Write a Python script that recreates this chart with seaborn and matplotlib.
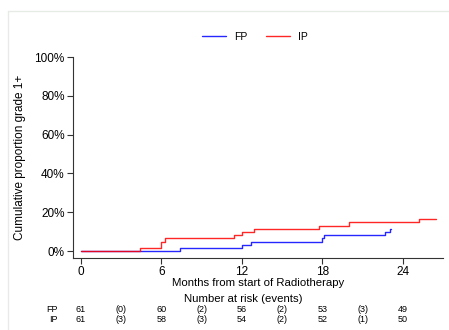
import pandas as pd
import matplotlib.pyplot as plt
import seaborn as sns
from matplotlib.lines import Line2D

# Cumulative incidence curves (months, percent)
fp_months = [0, 7.39, 12.0, 12.7, 17.96, 18.1, 22.7, 23.05, 23.1]
fp_cum = [0, 1.6, 3.3, 4.9, 6.6, 8.2, 9.8, 11.5, 11.5]
ip_months = [0, 4.43, 6.0, 6.27, 11.4, 12.0, 12.9, 17.76, 20.0, 25.2, 26.5]
ip_cum = [0, 1.6, 4.9, 6.6, 8.2, 9.8, 11.5, 13.1, 14.8, 16.4, 16.4]

# Number at risk table
risk_months = [0, 3, 6, 9, 12, 15, 18, 21, 24]
fp_risk = ["61", "(0)", "60", "(2)", "56", "(2)", "53", "(3)", "49"]
ip_risk = ["61", "(3)", "58", "(3)", "54", "(2)", "52", "(1)", "50"]

x_ticks = [0, 6, 12, 18, 24]
y_ticks = [0, 20, 40, 60, 80, 100]

df = pd.concat([
    pd.DataFrame({"month": fp_months, "cum": fp_cum, "group": "FP"}),
    pd.DataFrame({"month": ip_months, "cum": ip_cum, "group": "IP"}),
])

sns.set_style("white")
plt.rcParams["font.family"] = ["Liberation Sans", "DejaVu Sans"]
plt.rcParams["text.color"] = "black"
plt.rcParams["axes.labelcolor"] = "black"
plt.rcParams["xtick.color"] = "#333333"
plt.rcParams["ytick.color"] = "#333333"
plt.rcParams["xtick.labelcolor"] = "black"
plt.rcParams["ytick.labelcolor"] = "black"

fig = plt.figure(figsize=(4.49, 3.30), dpi=100)
ax = fig.add_axes([73 / 449, 1 - 258 / 330, 370 / 449, 201 / 330])

sns.lineplot(data=df, x="month", y="cum", hue="group",
             palette={"FP": "#0000ff", "IP": "#ff0000"},
             drawstyle="steps-post", estimator=None, sort=False,
             linewidth=1.0, alpha=0.85, ax=ax)

ax.set_xlim(-0.6, 27.0)
ax.set_ylim(-3.6, 100)
ax.set_xticks(x_ticks)
ax.set_yticks(y_ticks)
ax.set_yticklabels([f"{v}%" for v in y_ticks])
ax.tick_params(axis="both", which="both", direction="out", length=4, width=0.8,
               labelsize=8.5, pad=2, left=True, bottom=True)
ax.set_xlabel("Months from start of Radiotherapy", fontsize=8.2, labelpad=0)
ax.set_ylabel("Cumulative proportion grade 1+", fontsize=8.5, labelpad=6)

for side in ["top", "right"]:
    ax.spines[side].set_visible(False)
for side in ["left", "bottom"]:
    ax.spines[side].set_color("#333333")
    ax.spines[side].set_linewidth(0.8)

ax.legend(loc="center", bbox_to_anchor=(255 / 449, 1 - 37 / 330),
          bbox_transform=fig.transFigure, ncol=2, frameon=False,
          fontsize=7.5, handlelength=2.3, columnspacing=1.8, handletextpad=0.8)

# Number at risk
fig.text(243 / 449, 1 - 298.5 / 330, "Number at risk (events)", ha="center",
         va="center", fontsize=8.2)
row_y = [1 - 310 / 330, 1 - 320 / 330]
for label, values, y in [("FP", fp_risk, row_y[0]), ("IP", ip_risk, row_y[1])]:
    fig.text(58 / 449, y, label, ha="right", va="center", fontsize=6.5)
    for m, v in zip(risk_months, values):
        xf = fig.transFigure.inverted().transform(ax.transData.transform((m, 0)))[0]
        fig.text(xf, y, v, ha="center", va="center", fontsize=6.5)

# faint outer frame
frame_color = "#e6ebe6"
fig.add_artist(Line2D([8 / 449, 8 / 449], [0, 1 - 11 / 330], color=frame_color, lw=1))
fig.add_artist(Line2D([8 / 449, 1.01], [1 - 11 / 330, 1 - 11 / 330], color=frame_color, lw=1))

plt.savefig("out.png", dpi=100)
